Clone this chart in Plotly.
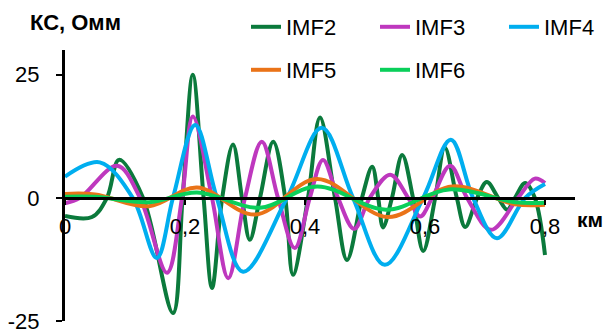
import plotly.graph_objects as go

# ---- data ----
imf2_x = [0, 0.045, 0.07, 0.09, 0.13, 0.18, 0.196, 0.213, 0.231, 0.245, 0.262, 0.28, 0.295, 0.308,
          0.325, 0.347, 0.367, 0.38, 0.405, 0.425, 0.45, 0.47, 0.495, 0.512, 0.522, 0.53, 0.545,
          0.562, 0.58, 0.597, 0.617, 0.633, 0.653, 0.667, 0.687, 0.703, 0.722, 0.737, 0.75,
          0.767, 0.783, 0.8]
imf2_y = [-3.7, -3.9, 0, 7.7, 0, -23.4, 0, 25, 0, -18.3, 0, 10.8, 0, -8.5,
          0, 11.4, 0, -15.6, 0, 16.3, 0, -12.6, 0, 6.3, 0, -6, 0,
          8.7, 0, -10.8, 0, 10.2, 0, -5.9, 0, 3.2, 0, -2.4, 0,
          3, 0, -11.6]

imf3_x = [0, 0.025, 0.087, 0.125, 0.17, 0.195, 0.213, 0.245, 0.272, 0.3, 0.328, 0.355, 0.383,
          0.408, 0.43, 0.455, 0.482, 0.508, 0.542, 0.572, 0.592, 0.612, 0.642, 0.67, 0.71,
          0.755, 0.783, 0.8]
imf3_y = [-1.1, 0, 6.5, 0, -15.2, 0, 16.5, 0, -16.3, 0, 11.4, 0, -10.2,
          0, 7.7, 0, -6.3, 0, 4.7, 0, -3.8, 0, 6.5, 0, -6.5,
          0, 3.9, 3.0]

imf4_x = [0, 0.058, 0.113, 0.153, 0.18, 0.217, 0.253, 0.297, 0.37, 0.428, 0.48, 0.533, 0.597,
          0.643, 0.68, 0.72, 0.767, 0.8]
imf4_y = [4.3, 7.2, 0, -12.2, 0, 14.8, 0, -15, 0, 14.2, 0, -13.6, 0,
          11.8, 0, -8.2, 0, 2.8]

imf5_x = [0, 0.05, 0.14, 0.22, 0.317, 0.42, 0.538, 0.645, 0.75, 0.8]
imf5_y = [0.8, 0.7, -1.7, 2.1, -3.4, 3.8, -3.9, 2.3, -1.3, -1.4]

imf6_x = [0, 0.05, 0.14, 0.22, 0.325, 0.42, 0.535, 0.64, 0.75, 0.8]
imf6_y = [0.2, 0.2, -0.9, 1.1, -2.0, 2.3, -2.4, 1.7, -0.9, -1.0]

series_names = ["IMF2", "IMF3", "IMF4", "IMF5", "IMF6"]
series_colors = ["#0B7A3C", "#BE38BE", "#00AEEF", "#EA7318", "#0ACF5A"]

y_tickvals = [-25, 0, 25]
y_ticktext = ["-25", "0", "25"]
x_tickvals = [0, 0.2, 0.4, 0.6, 0.8]
x_ticktext = ["0", "0,2", "0,4", "0,6", "0,8"]

y_title = "КС, Омм"
x_title = "км"

FONT = "Liberation Sans, Arial, sans-serif"

fig = go.Figure()
xs = [imf2_x, imf3_x, imf4_x, imf5_x, imf6_x]
ys = [imf2_y, imf3_y, imf4_y, imf5_y, imf6_y]
for i, (name, color, x, y) in enumerate(zip(series_names, series_colors, xs, ys)):
    fig.add_trace(go.Scatter(
        x=x, y=y, name=name, mode="lines",
        line=dict(color=color, width=4, shape="spline", smoothing=1.0),
        legend="legend" if i < 3 else "legend2",
    ))

Y_MIN, Y_MAX = -25, 30
LEG_X = (246 - 65) / 510

fig.update_layout(
    width=610, height=333,
    margin=dict(l=65, r=35, t=50, b=12, autoexpand=False),
    paper_bgcolor="white", plot_bgcolor="white",
    font=dict(family=FONT, size=22, color="black"),
    showlegend=True,
    legend=dict(orientation="h", x=LEG_X, xanchor="left", y=(321 - 27) / 271, yanchor="middle",
                font=dict(size=22), entrywidth=84, bgcolor="rgba(0,0,0,0)",
                itemwidth=30, tracegroupgap=0),
    legend2=dict(orientation="h", x=LEG_X, xanchor="left", y=(321 - 70) / 271, yanchor="middle",
                 font=dict(size=22), entrywidth=84, bgcolor="rgba(0,0,0,0)",
                 itemwidth=30, tracegroupgap=0),
    xaxis=dict(range=[0, 0.85], anchor="free", position=(0 - Y_MIN) / (Y_MAX - Y_MIN),
               tickvals=x_tickvals, ticktext=x_ticktext,
               showline=True, linecolor="black", linewidth=3,
               ticks="outside", ticklen=5, tickwidth=2, tickcolor="black",
               showgrid=False, zeroline=False, tickfont=dict(size=22),
               ticklabelstandoff=3, ticklabeloverflow="allow"),
    yaxis=dict(range=[Y_MIN, Y_MAX], tickvals=y_tickvals, ticktext=y_ticktext,
               showline=True, linecolor="black", linewidth=3,
               ticks="outside", ticklen=6, tickwidth=2, tickcolor="black",
               showgrid=False, zeroline=False, tickfont=dict(size=22),
               ticklabelstandoff=12, ticklabeloverflow="allow"),
    annotations=[
        dict(text="<b>" + y_title + "</b>", xref="paper", yref="paper",
             x=(75 - 65) / 510, y=(321 - 22) / 271, xanchor="center", yanchor="middle",
             showarrow=False, font=dict(size=22)),
        dict(text="<b>" + x_title + "</b>", xref="paper", yref="y",
             x=1.0, y=0, xanchor="left", yanchor="middle", yshift=-22,
             showarrow=False, font=dict(size=21)),
    ],
)

fig.write_html("out.html", config={"displayModeBar": False},
               post_script="document.body.style.margin='0';document.body.style.overflow='hidden';")
